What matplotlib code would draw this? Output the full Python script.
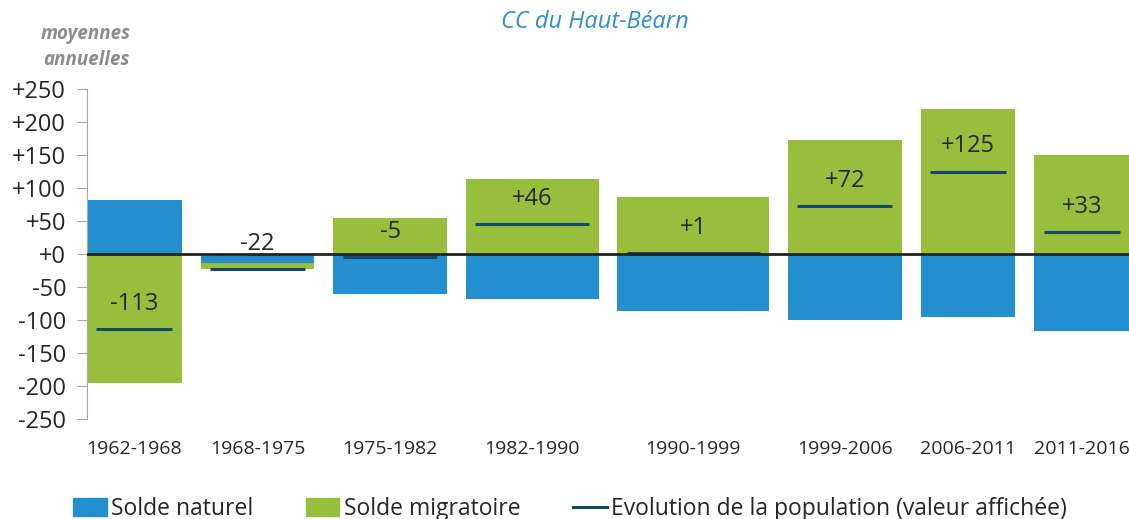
import numpy as np
import matplotlib.pyplot as plt
from matplotlib.patches import Patch
from matplotlib.lines import Line2D

plt.rcParams['font.family'] = ['Open Sans', 'DejaVu Sans']

# données (moyennes annuelles)
periodes = ['1962-1968', '1968-1975', '1975-1982', '1982-1990',
            '1990-1999', '1999-2006', '2006-2011', '2011-2016']
largeurs = [5, 6, 6, 7, 8, 6, 5, 5]   # largeur relative des barres
solde_naturel = [82, -14, -60, -68, -86, -100, -95, -117]
solde_migratoire = [-195, -8, 55, 114, 87, 172, 220, 150]
evolution = [-113, -22, -5, 46, 1, 72, 125, 33]

bleu = '#238fce'
vert = '#97bf3d'
marine = '#16486b'

fig = plt.figure(figsize=(11.29, 5.19), dpi=100)
ax = fig.add_axes([87/1129, 1 - 419/519, 1 - 87/1129, 330/519])

# positions des barres (écart d'une unité entre les barres)
gauche = []
x = 0
for w in largeurs:
    gauche.append(x)
    x += w + 1
gauche = np.array(gauche)
largeurs = np.array(largeurs)
centres = gauche + largeurs / 2

nat = np.array(solde_naturel)
mig = np.array(solde_migratoire)
bas_mig = np.where(np.sign(nat) == np.sign(mig), nat, 0)

ax.bar(gauche, nat, width=largeurs, align='edge', color=bleu, zorder=2)
ax.bar(gauche, mig, width=largeurs, bottom=bas_mig, align='edge', color=vert, zorder=2)

ax.hlines(evolution, gauche + 0.5, gauche + largeurs - 0.5, color=marine, lw=2.2, zorder=3)
for c, v in zip(centres, evolution):
    ax.annotate(f'{v:+d}', (c, v), xytext=(0, 18), textcoords='offset points',
                ha='center', va='center', fontsize=17, color='#262626', zorder=4)

ax.axhline(0, color='#222222', lw=2, zorder=3)

ax.set_xlim(0, x - 1)
ax.set_ylim(-250, 250)
yt = np.arange(-250, 251, 50)
ax.set_yticks(yt)
ax.set_yticklabels([f'{v:+d}' if v >= 0 else str(v) for v in yt])
ax.set_xticks(centres)
ax.set_xticklabels(periodes)

for s in ['top', 'right', 'bottom']:
    ax.spines[s].set_visible(False)
ax.spines['left'].set_color('#a6a6a6')
ax.tick_params(axis='y', length=7, color='#a6a6a6', labelsize=17, labelcolor='#262626', pad=8)
ax.tick_params(axis='x', length=0, labelsize=14, labelcolor='#262626', pad=15)

fig.text(595/1129, 1 - 22/519, 'CC du Haut-Béarn', ha='center', va='center',
         fontsize=17, style='italic', color='#2e8fcb')
fig.text(86/1129, 1 - 47/519, 'moyennes\nannuelles', ha='center', va='center',
         fontsize=13.5, style='italic', weight='bold', color='#8c8c8c', linespacing=1.45)

poignees = [Patch(color=bleu), Patch(color=vert), Line2D([], [], color=marine, lw=2.2)]
etiquettes = ['Solde naturel', 'Solde migratoire', 'Evolution de la population (valeur affichée)']
fig.legend(poignees, etiquettes, loc='center left', bbox_to_anchor=(62/1129, 1 - 509/519),
           ncol=3, frameon=False, fontsize=16.5, handlelength=1.45, handleheight=0.8,
           handletextpad=0.2, columnspacing=2.3, borderpad=0, labelcolor='#262626')

fig.savefig('out.png', dpi=100)
